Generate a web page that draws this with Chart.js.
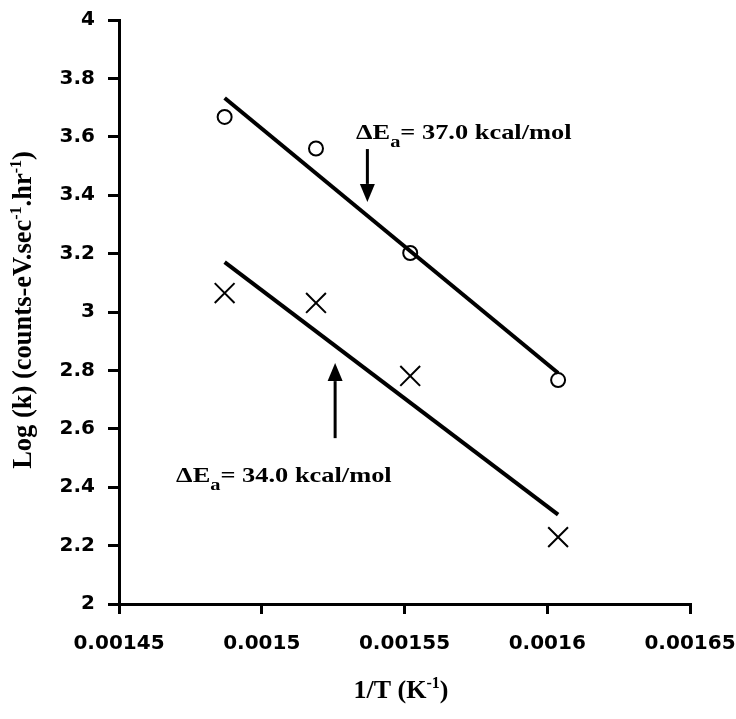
<!DOCTYPE html>
<html>
<head>
<meta charset="utf-8">
<script src="https://cdn.jsdelivr.net/npm/chart.js@4"></script>
<style>
html, body { margin: 0; padding: 0; background: #fff; }
</style>
</head>
<body>
<canvas id="chart" width="736" height="719"></canvas>
<script>
// 1/T values (K^-1) and log(k) for the two sample sets
const invT = [0.001487, 0.001519, 0.001552, 0.0016038]
const logkCircle = [3.668, 3.56, 3.202, 2.767]
const logkCross = [3.065, 3.031, 2.781, 2.229]

// fitted lines, read at both ends
const fitX = [0.001487, 0.0016038]
const fitCircle = [3.733, 2.791]
const fitCross = [3.171, 2.306]

const xTicks = [0.00145, 0.0015, 0.00155, 0.0016, 0.00165]
const xTickLabels = ['0.00145', '0.0015', '0.00155', '0.0016', '0.00165']
const yTicks = [2, 2.2, 2.4, 2.6, 2.8, 3, 3.2, 3.4, 3.6, 3.8, 4]
const yTickLabels = ['2', '2.2', '2.4', '2.6', '2.8', '3', '3.2', '3.4', '3.6', '3.8', '4']

// activation energy notes: text anchor and arrow (data units)
const noteValues = ['37.0', '34.0']
const noteX = [0.001533, 0.00147]
const noteY = [3.592, 2.418]
const arrowX = [0.001537, 0.0015257]
const arrowFrom = [3.558, 2.568]
const arrowTo = [3.377, 2.825]

const serif = '"Liberation Serif", "Times New Roman", serif'

function pts(xs, ys) {
    return xs.map((x, i) => ({ x: x, y: ys[i] }))
}

function richWidth(ctx, parts) {
    let w = 0
    parts.forEach(p => {
        ctx.font = `bold ${p.size}px ${serif}`
        w += ctx.measureText(p.t).width
    })
    return w
}

function drawRich(ctx, parts, x, y) {
    let cx = x
    parts.forEach(p => {
        ctx.font = `bold ${p.size}px ${serif}`
        ctx.fillText(p.t, cx, y + p.dy)
        cx += ctx.measureText(p.t).width
    })
}

const extras = {
    id: 'extras',
    afterDraw(chart) {
        const ctx = chart.ctx
        const xs = chart.scales.x
        const ys = chart.scales.y
        ctx.save()
        ctx.fillStyle = '#000'
        ctx.strokeStyle = '#000'
        ctx.textBaseline = 'alphabetic'
        ctx.textAlign = 'left'

        // annotations, a bit wider than tall like the original print
        noteValues.forEach((v, i) => {
            const parts = [
                { t: '\u0394E', size: 22, dy: 0 },
                { t: 'a', size: 17, dy: 8 },
                { t: '= ' + v + ' kcal/mol', size: 22, dy: 0 }
            ]
            ctx.save()
            ctx.translate(xs.getPixelForValue(noteX[i]), ys.getPixelForValue(noteY[i]))
            ctx.scale(1.2, 1)
            drawRich(ctx, parts, 0, 0)
            ctx.restore()
        })

        // arrows
        arrowX.forEach((v, i) => {
            const px = xs.getPixelForValue(v)
            const y0 = ys.getPixelForValue(arrowFrom[i])
            const y1 = ys.getPixelForValue(arrowTo[i])
            const dir = y1 > y0 ? 1 : -1
            const head = 18
            ctx.lineWidth = 3
            ctx.beginPath()
            ctx.moveTo(px, y0)
            ctx.lineTo(px, y1 - dir * head)
            ctx.stroke()
            ctx.beginPath()
            ctx.moveTo(px, y1)
            ctx.lineTo(px - 7.5, y1 - dir * head)
            ctx.lineTo(px + 7.5, y1 - dir * head)
            ctx.closePath()
            ctx.fill()
        })

        // x title
        const xParts = [
            { t: '1/T (K', size: 26, dy: 0 },
            { t: '-1', size: 16, dy: -10 },
            { t: ')', size: 26, dy: 0 }
        ]
        const xw = richWidth(ctx, xParts)
        drawRich(ctx, xParts, 401 - xw / 2, 698)

        // y title
        const yParts = [
            { t: 'Log (k) (counts-eV.sec', size: 26.5, dy: 0 },
            { t: '-1', size: 16, dy: -10 },
            { t: '.hr', size: 26.5, dy: 0 },
            { t: '-1', size: 16, dy: -10 },
            { t: ')', size: 26.5, dy: 0 }
        ]
        const yw = richWidth(ctx, yParts)
        ctx.translate(31, 310)
        ctx.rotate(-Math.PI / 2)
        drawRich(ctx, yParts, -yw / 2, 0)
        ctx.restore()
    }
}

const tickFont = { family: '"DejaVu Sans", sans-serif', weight: 'bold', size: 20 }

const config = {
    type: 'scatter',
    data: {
        datasets: [
            {
                label: 'fit circles',
                data: pts(fitX, fitCircle),
                showLine: true,
                borderColor: '#000',
                borderWidth: 4,
                pointRadius: 0
            },
            {
                label: 'fit crosses',
                data: pts(fitX, fitCross),
                showLine: true,
                borderColor: '#000',
                borderWidth: 4,
                pointRadius: 0
            },
            {
                label: 'circles',
                data: pts(invT, logkCircle),
                pointStyle: 'circle',
                pointRadius: 7,
                pointBorderWidth: 2,
                borderColor: '#000',
                backgroundColor: 'rgba(0,0,0,0)'
            },
            {
                label: 'crosses',
                data: pts(invT, logkCross),
                pointStyle: 'crossRot',
                pointRadius: 14,
                pointBorderWidth: 2,
                borderColor: '#000',
                backgroundColor: '#000'
            }
        ]
    },
    options: {
        responsive: false,
        animation: false,
        layout: { padding: { left: 0, top: 20, right: 46, bottom: 0 } },
        plugins: {
            legend: { display: false },
            tooltip: { enabled: false }
        },
        scales: {
            x: {
                type: 'linear',
                min: 0.00145,
                max: 0.00165,
                afterBuildTicks: s => { s.ticks = xTicks.map(v => ({ value: v })) },
                afterFit: s => {
                    s.height = 115
                    s.paddingLeft = 0
                    s.paddingRight = 0
                },
                ticks: {
                    callback: (v, i) => xTickLabels[i],
                    font: tickFont,
                    color: '#000',
                    padding: 18,
                    maxRotation: 0,
                    autoSkip: false
                },
                grid: { drawOnChartArea: false, color: '#000', lineWidth: 3, tickLength: 10 },
                border: { color: '#000', width: 3 }
            },
            y: {
                type: 'linear',
                min: 2,
                max: 4,
                afterBuildTicks: s => { s.ticks = yTicks.map(v => ({ value: v })) },
                afterFit: s => {
                    s.width = 119
                    s.paddingTop = 0
                    s.paddingBottom = 0
                },
                ticks: {
                    callback: (v, i) => yTickLabels[i],
                    font: tickFont,
                    color: '#000',
                    padding: 13,
                    autoSkip: false
                },
                grid: { drawOnChartArea: false, color: '#000', lineWidth: 3, tickLength: 11 },
                border: { color: '#000', width: 3 }
            }
        }
    },
    plugins: [extras]
}

const myChart = new Chart(document.getElementById('chart'), config)
</script>
</body>
</html>
